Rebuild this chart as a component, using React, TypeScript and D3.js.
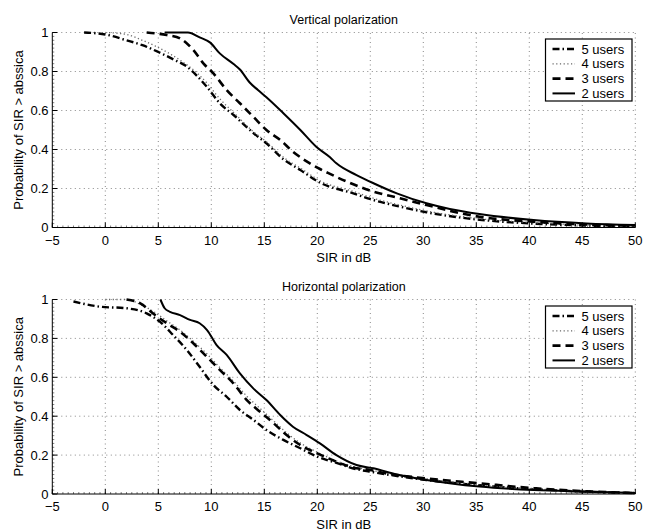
import React from "react";
import * as d3 from "d3";

// ---- Data (SIR in dB, probability) ----
const xTicks = [-5, 0, 5, 10, 15, 20, 25, 30, 35, 40, 45, 50];
const yTicks = [0, 0.2, 0.4, 0.6, 0.8, 1];
const yTickLabels = ["0", "0.2", "0.4", "0.6", "0.8", "1"];
const seriesNames = ["5 users", "4 users", "3 users", "2 users"];
const titles = ["Vertical polarization", "Horizontal polarization"];

const vert5: [number, number][] = [[-2,1],[0,0.99],[2,0.96],[3.5,0.935],[5,0.9],[6.5,0.86],[7.7,0.825],[8.6,0.78],[9.6,0.72],[10.8,0.637],[12.1,0.577],[14,0.483],[15.2,0.432],[16.8,0.35],[18.4,0.295],[20.25,0.23],[23.4,0.175],[25.3,0.141],[27.8,0.107],[30.3,0.078],[35.3,0.04],[40.4,0.02],[45.4,0.01],[50,0.005]];
const vert4: [number, number][] = [[0,1],[2,0.99],[3.5,0.96],[4.85,0.927],[7,0.86],[8.5,0.8],[9.6,0.74],[10.8,0.66],[12.1,0.59],[14,0.49],[15.2,0.44],[16.8,0.36],[18.4,0.305],[20.25,0.24],[23.4,0.185],[25.3,0.15],[27.8,0.115],[30.3,0.085],[35.3,0.045],[40.4,0.025],[45.4,0.012],[50,0.006]];
const vert3: [number, number][] = [[3.9,1],[5.8,0.987],[7.05,0.97],[8.3,0.91],[9.25,0.842],[10.2,0.79],[11.45,0.705],[12.7,0.637],[13.96,0.568],[15.2,0.5],[16.5,0.449],[17.7,0.389],[19.3,0.329],[20.25,0.3],[21,0.28],[22.8,0.235],[25.3,0.184],[27.8,0.15],[30.3,0.115],[35.3,0.055],[40.4,0.03],[45.4,0.015],[50,0.01]];
const vert2: [number, number][] = [[5.6,1],[7.8,1],[8.9,0.975],[9.9,0.948],[10.8,0.893],[12.1,0.838],[12.7,0.81],[13.6,0.745],[14.4,0.705],[15.2,0.668],[16.8,0.586],[18.4,0.5],[19.9,0.414],[21.2,0.36],[21.8,0.329],[23.7,0.269],[25.3,0.227],[27.5,0.175],[30.3,0.124],[32.5,0.095],[35.3,0.069],[40.4,0.038],[45.4,0.021],[50,0.013]];

const horiz5: [number, number][] = [[-3,0.99],[-0.5,0.963],[2,0.955],[3.9,0.929],[5.15,0.886],[6.4,0.817],[7.7,0.74],[8.9,0.654],[10.2,0.56],[11.45,0.5],[12.7,0.432],[14,0.38],[15.2,0.329],[16.8,0.278],[18.4,0.235],[20,0.192],[21.8,0.16],[23.5,0.13],[25.3,0.112],[30.3,0.072],[35.3,0.045],[40.4,0.025],[45.4,0.012],[50,0.005]];
const horiz4: [number, number][] = [[0,1],[2,1],[3.3,0.975],[4.5,0.94],[5.8,0.89],[7,0.845],[8.3,0.785],[9.6,0.72],[10.8,0.65],[12.1,0.58],[13.4,0.5],[14.6,0.44],[15.9,0.375],[17.1,0.315],[18.4,0.262],[20,0.215],[21.8,0.17],[23.5,0.14],[25.3,0.12],[30.3,0.078],[35.3,0.048],[40.4,0.027],[45.4,0.013],[50,0.006]];
const horiz3: [number, number][] = [[2,1],[3.3,0.98],[4.7,0.92],[5.8,0.878],[7.05,0.834],[8.3,0.775],[9.57,0.706],[10.8,0.638],[12.08,0.569],[13.35,0.483],[14.6,0.423],[15.9,0.363],[17.1,0.303],[18.4,0.252],[20,0.209],[21.8,0.166],[23.1,0.14],[25,0.123],[26.5,0.106],[30.3,0.08],[35.3,0.055],[40.4,0.03],[45.4,0.014],[50,0.005]];
const horiz2: [number, number][] = [[5.2,1],[5.6,0.955],[6.1,0.937],[7.05,0.92],[8,0.895],[8.9,0.878],[9.6,0.843],[10.5,0.766],[11.45,0.715],[12.7,0.62],[13.96,0.543],[15.2,0.483],[16.5,0.406],[17.7,0.346],[19,0.303],[20.25,0.26],[21.8,0.2],[23.7,0.149],[25.3,0.132],[27.5,0.1],[30.3,0.072],[35.3,0.038],[40.4,0.02],[45.4,0.012],[50,0.005]];

const styles = [
  { stroke: "#000", width: 2.4, dash: "7,3,1.5,3" },
  { stroke: "#666", width: 1.3, dash: "1.2,2.5" },
  { stroke: "#000", width: 2.6, dash: "8,5" },
  { stroke: "#000", width: 2, dash: "" },
];

const FONT = "'Liberation Sans', Arial, Helvetica, sans-serif";
const W = 645, H = 532;
const X0 = 52.3, X1 = 635.3;

function Panel({ top, bottom, title, series }: { top: number; bottom: number; title: string; series: [number, number][][] }) {
  const x = d3.scaleLinear().domain([-5, 50]).range([X0, X1]);
  const y = d3.scaleLinear().domain([0, 1]).range([bottom, top]);
  const line = d3.line<[number, number]>().x(d => x(d[0])).y(d => y(d[1])).curve(d3.curveMonotoneX);
  const minorX = d3.range(-5, 50.001, 0.5);
  const minorY = d3.range(0, 1.0001, 0.02);
  const lgTop = top + 6.5;
  const lgLeft = 545.5, lgRight = 632;
  return (
    <g>
      <text x={(X0 + X1) / 2} y={top - 9} textAnchor="middle" fontSize={12.5} fontFamily={FONT}>{title}</text>
      {/* grid */}
      {xTicks.filter(t => t > -5).map(t => (
        <line key={"gx" + t} x1={x(t)} x2={x(t)} y1={y(0)} y2={y(1)} stroke="#555" strokeWidth={0.7} strokeDasharray="1,3.5" />
      ))}
      {yTicks.filter(t => t > 0).map(t => (
        <line key={"gy" + t} x1={x(-5)} x2={x(50)} y1={y(t)} y2={y(t)} stroke="#555" strokeWidth={0.7} strokeDasharray="1,3.5" />
      ))}
      {/* minor ticks */}
      {minorX.map((t, i) => (
        <line key={"mx" + i} x1={x(t)} x2={x(t)} y1={y(0)} y2={y(0) - 2} stroke="#000" strokeWidth={0.5} />
      ))}
      {minorY.map((t, i) => (
        <line key={"my" + i} x1={x(-5)} x2={x(-5) + 2} y1={y(t)} y2={y(t)} stroke="#000" strokeWidth={0.5} />
      ))}
      {/* major ticks */}
      {xTicks.map(t => (
        <line key={"tx" + t} x1={x(t)} x2={x(t)} y1={y(0)} y2={y(0) - 5} stroke="#000" strokeWidth={1} />
      ))}
      {yTicks.map(t => (
        <line key={"ty" + t} x1={x(-5)} x2={x(-5) + 5} y1={y(t)} y2={y(t)} stroke="#000" strokeWidth={1} />
      ))}
      {/* axes */}
      <line x1={x(-5)} x2={x(50)} y1={y(0)} y2={y(0)} stroke="#000" strokeWidth={1} />
      <line x1={x(-5)} x2={x(-5)} y1={y(0)} y2={y(1)} stroke="#000" strokeWidth={1} />
      {/* tick labels */}
      {xTicks.map(t => (
        <text key={"lx" + t} x={x(t)} y={bottom + 17} textAnchor="middle" fontSize={13} fontFamily={FONT}>
          {t < 0 ? "\u2212" + Math.abs(t) : String(t)}
        </text>
      ))}
      {yTicks.map((t, i) => (
        <text key={"ly" + t} x={48.5} y={y(t) + 4.6} textAnchor="end" fontSize={13} fontFamily={FONT}>{yTickLabels[i]}</text>
      ))}
      <text x={(X0 + X1) / 2} y={bottom + 34.5} textAnchor="middle" fontSize={13} fontFamily={FONT}>SIR in dB</text>
      <text transform={`translate(22.5,${(top + bottom) / 2}) rotate(-90)`} textAnchor="middle" fontSize={13} fontFamily={FONT}>Probability of SIR &gt; abssica</text>
      {/* curves */}
      {series.map((s, i) => (
        <path key={"s" + i} d={line(s) || ""} fill="none" stroke={styles[i].stroke} strokeWidth={styles[i].width} strokeDasharray={styles[i].dash} />
      ))}
      {/* legend */}
      <rect x={lgLeft} y={lgTop} width={lgRight - lgLeft} height={62} fill="#fff" stroke="#000" strokeWidth={1.2} />
      {seriesNames.map((n, i) => {
        const cy = lgTop + 10 + i * 14.8;
        return (
          <g key={"lg" + i}>
            <line x1={552.5} x2={575} y1={cy} y2={cy} stroke={styles[i].stroke} strokeWidth={styles[i].width} strokeDasharray={styles[i].dash} />
            <text x={581.5} y={cy + 4.6} fontSize={13} fontFamily={FONT}>{n}</text>
          </g>
        );
      })}
    </g>
  );
}

export default function App() {
  return (
    <svg width={W} height={H} style={{ position: "absolute", left: 0, top: 0, background: "#fff" }}>
      <rect width={W} height={H} fill="#fff" />
      <Panel top={32.5} bottom={227.5} title={titles[0]} series={[vert5, vert4, vert3, vert2]} />
      <Panel top={299.5} bottom={494} title={titles[1]} series={[horiz5, horiz4, horiz3, horiz2]} />
    </svg>
  );
}
